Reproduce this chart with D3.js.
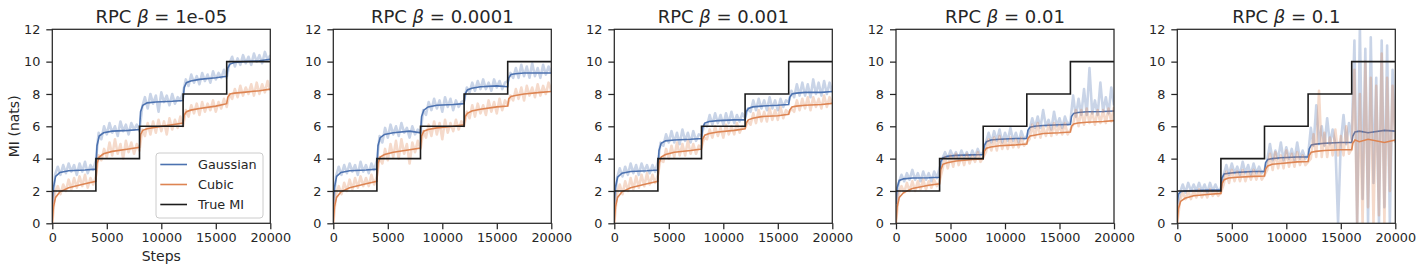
<!DOCTYPE html>
<html>
<head>
<meta charset="utf-8">
<script src="https://cdn.jsdelivr.net/npm/d3@7"></script>
<style>
body { margin: 0; background: #fff; }
text { font-family: "DejaVu Sans", sans-serif; fill: #262626; }
</style>
</head>
<body>
<svg class="mi" width="1423" height="271"></svg>
<script>
// beta values, one panel each
const betas = ["1e-05", "0.0001", "0.001", "0.01", "0.1"]

// smoothed curves, sampled at these steps
const steps = [0, 100, 300, 700, 1500, 3000,
  4000, 4100, 4300, 4700, 5500, 7000,
  8000, 8100, 8300, 8700, 9500, 11000,
  12000, 12100, 12300, 12700, 13500, 15000,
  16000, 16100, 16300, 16700, 17500, 19000, 20000]

const gaussianSmooth = [
  [1.2, 2.2, 2.9, 3.15, 3.25, 3.3, 3.35, 4.8, 5.4, 5.6, 5.7, 5.75, 5.8, 6.9, 7.3, 7.45, 7.5, 7.55, 7.6, 8.4, 8.7, 8.8, 8.9, 9.0, 9.1, 9.6, 9.85, 9.95, 10.0, 10.05, 10.15],
  [1.2, 2.2, 2.9, 3.15, 3.25, 3.3, 3.35, 4.8, 5.3, 5.5, 5.6, 5.7, 5.6, 6.6, 7.0, 7.2, 7.3, 7.35, 7.4, 8.0, 8.25, 8.35, 8.45, 8.5, 8.45, 9.0, 9.2, 9.25, 9.3, 9.3, 9.3],
  [1.2, 2.2, 2.85, 3.1, 3.2, 3.25, 3.3, 4.5, 4.95, 5.1, 5.15, 5.2, 5.25, 5.9, 6.2, 6.3, 6.35, 6.4, 6.4, 6.9, 7.1, 7.2, 7.25, 7.3, 7.35, 7.8, 8.0, 8.05, 8.1, 8.1, 8.15],
  [1.2, 2.2, 2.65, 2.75, 2.8, 2.82, 2.85, 3.8, 4.05, 4.15, 4.2, 4.23, 4.25, 4.8, 5.05, 5.15, 5.2, 5.25, 5.25, 5.75, 5.95, 6.0, 6.05, 6.1, 6.12, 6.6, 6.8, 6.85, 6.9, 6.92, 6.95],
  [1.2, 1.8, 1.95, 2.0, 2.02, 2.05, 2.05, 2.8, 3.05, 3.1, 3.15, 3.2, 3.2, 3.75, 3.95, 4.0, 4.05, 4.1, 4.1, 4.6, 4.85, 4.9, 4.95, 5.0, 5.0, 5.4, 5.65, 5.7, 5.6, 5.75, 5.7]
]

const cubicSmooth = [
  [0, 1.0, 1.6, 1.95, 2.2, 2.45, 2.6, 3.7, 4.1, 4.3, 4.45, 4.6, 4.7, 5.5, 5.75, 5.85, 5.95, 6.1, 6.2, 6.7, 6.9, 7.0, 7.1, 7.25, 7.4, 7.8, 8.0, 8.05, 8.1, 8.2, 8.3],
  [0, 1.0, 1.6, 1.95, 2.2, 2.45, 2.6, 3.7, 4.1, 4.25, 4.4, 4.55, 4.65, 5.4, 5.7, 5.8, 5.9, 6.0, 6.1, 6.6, 6.8, 6.95, 7.05, 7.2, 7.25, 7.7, 7.85, 7.9, 8.0, 8.1, 8.15],
  [0, 1.0, 1.6, 1.95, 2.2, 2.45, 2.6, 3.7, 4.1, 4.25, 4.4, 4.5, 4.6, 5.2, 5.45, 5.55, 5.65, 5.75, 5.85, 6.2, 6.4, 6.5, 6.6, 6.65, 6.75, 7.0, 7.2, 7.25, 7.3, 7.35, 7.42],
  [0, 1.0, 1.6, 1.9, 2.15, 2.35, 2.45, 3.3, 3.65, 3.75, 3.85, 3.95, 3.98, 4.45, 4.65, 4.72, 4.8, 4.85, 4.9, 5.25, 5.4, 5.45, 5.55, 5.6, 5.65, 6.0, 6.15, 6.2, 6.25, 6.3, 6.35],
  [0, 0.9, 1.35, 1.55, 1.7, 1.8, 1.85, 2.45, 2.7, 2.8, 2.85, 2.9, 2.92, 3.35, 3.55, 3.65, 3.7, 3.8, 3.82, 4.2, 4.4, 4.45, 4.5, 4.55, 4.55, 4.95, 5.15, 5.05, 5.2, 5.0, 5.15]
]

// raw (unsmoothed) estimates, one every 250 steps
const rawSteps = d3.range(0, 20001, 250)

const gaussianRaw = [
  [1.0, 3.0, 3.5, 3.0, 3.6, 3.1, 3.7, 3.2, 3.6, 3.0, 3.7, 3.2, 3.8, 3.1, 3.6, 3.3,
   3.9, 5.6, 5.2, 6.0, 5.5, 6.2, 5.6, 6.0, 5.4, 6.3, 5.7, 6.1, 5.5, 6.2, 5.8, 6.1,
   5.7, 7.2, 7.8, 7.1, 8.0, 7.4, 7.9, 6.9, 8.1, 7.5, 7.9, 7.3, 8.0, 7.4, 7.8, 7.6,
   8.1, 8.9, 8.5, 9.2, 8.7, 9.1, 8.6, 9.3, 8.8, 9.2, 8.7, 9.4, 8.9, 9.3, 9.0, 9.5,
   9.0, 9.9, 10.3, 9.7, 10.2, 9.8, 10.4, 9.9, 10.3, 9.8, 10.5, 10.0, 10.4, 9.9, 10.6, 10.1, 10.4],
  [1.0, 2.9, 3.5, 3.0, 3.6, 3.1, 3.7, 3.2, 3.6, 3.0, 3.8, 3.2, 3.6, 3.1, 3.7, 3.3,
   3.9, 5.4, 5.0, 5.9, 5.3, 6.1, 5.5, 6.0, 5.4, 6.2, 5.6, 5.9, 5.3, 6.0, 5.5, 5.8,
   5.6, 7.0, 6.7, 7.5, 7.0, 7.7, 7.1, 7.6, 6.9, 7.8, 7.2, 7.7, 7.0, 7.6, 7.2, 7.5,
   7.6, 8.4, 8.1, 8.7, 8.2, 8.8, 8.3, 8.9, 8.3, 8.7, 8.2, 8.9, 8.4, 8.8, 8.3, 8.7,
   8.8, 9.3, 9.0, 9.6, 9.0, 9.8, 9.1, 9.7, 9.0, 9.9, 9.1, 9.6, 9.0, 9.8, 9.2, 9.7, 9.3],
  [1.0, 2.8, 3.4, 2.9, 3.5, 3.0, 3.7, 3.1, 3.6, 3.0, 3.7, 3.2, 3.6, 3.1, 3.6, 3.2,
   3.8, 5.0, 4.8, 5.5, 5.0, 5.7, 5.0, 5.6, 4.9, 5.8, 5.1, 5.6, 5.0, 5.7, 5.1, 5.5,
   5.4, 6.1, 6.0, 6.7, 6.1, 6.8, 6.2, 6.7, 6.1, 6.8, 6.2, 6.9, 6.2, 6.7, 6.3, 6.8,
   6.5, 7.1, 6.9, 7.6, 7.0, 7.7, 7.1, 7.6, 7.0, 7.8, 7.1, 7.6, 7.0, 7.7, 7.2, 7.6,
   7.5, 8.2, 7.8, 8.6, 7.9, 8.7, 7.9, 8.6, 7.8, 8.9, 8.0, 8.7, 7.9, 8.8, 8.0, 8.7, 8.1],
  [1.0, 2.5, 3.0, 2.6, 3.1, 2.7, 3.3, 2.7, 3.1, 2.6, 3.2, 2.7, 3.1, 2.6, 3.2, 2.8,
   3.4, 4.0, 4.4, 4.0, 4.5, 4.1, 4.4, 4.0, 4.5, 4.1, 4.4, 4.0, 4.5, 4.1, 4.6, 4.2,
   4.4, 5.0, 5.6, 5.0, 5.7, 5.1, 5.8, 5.0, 5.6, 5.1, 5.9, 5.1, 5.6, 5.0, 5.7, 5.2,
   5.4, 5.8, 6.5, 5.9, 6.6, 5.9, 7.0, 6.0, 6.4, 5.8, 6.9, 6.0, 6.5, 5.9, 6.6, 6.1,
   6.3, 7.9, 6.6, 7.7, 6.7, 8.3, 6.7, 9.6, 6.8, 7.6, 6.7, 8.7, 6.9, 7.8, 6.8, 8.4, 7.3],
  [1.0, 1.9, 2.4, 1.9, 2.5, 2.0, 2.4, 2.0, 2.5, 2.0, 2.4, 1.9, 2.5, 2.0, 2.4, 2.0,
   2.2, 3.0, 3.6, 3.0, 3.7, 3.1, 3.5, 3.0, 3.8, 3.1, 3.6, 3.0, 3.7, 3.1, 3.5, 3.1,
   3.3, 3.9, 4.9, 3.9, 4.5, 4.0, 5.0, 3.9, 4.7, 4.0, 4.6, 3.9, 5.0, 4.0, 4.5, 4.0,
   4.2, 5.9, 4.8, 7.3, 4.9, 6.0, 4.8, 6.5, 4.9, 5.8, 4.9, 0.0, 5.0, 6.7, 4.9, 6.2,
   5.2, 11.3, 0.0, 12.2, 1.5, 10.8, 0.0, 11.5, 2.5, 9.0, 0.0, 11.3, 1.0, 11.0, 0.0, 9.5, 5.0]
]

const cubicRaw = [
  [0.0, 1.9, 2.3, 1.8, 2.4, 2.0, 2.7, 2.1, 2.8, 2.2, 2.9, 2.3, 3.0, 2.2, 2.8, 2.4,
   2.9, 4.2, 3.9, 4.6, 4.1, 5.0, 4.2, 5.2, 4.3, 4.9, 4.0, 5.1, 4.4, 5.0, 4.3, 4.9,
   4.5, 5.8, 5.4, 6.2, 5.5, 6.3, 5.6, 6.4, 5.7, 6.3, 5.5, 6.5, 5.8, 6.4, 5.9, 6.6,
   6.0, 7.0, 6.6, 7.3, 6.8, 7.4, 6.7, 7.5, 6.9, 7.4, 7.0, 7.6, 6.9, 7.5, 7.1, 7.7,
   7.2, 8.0, 7.7, 8.3, 7.8, 8.5, 7.9, 8.4, 8.0, 8.6, 7.9, 8.7, 8.0, 8.6, 8.1, 8.8, 8.2],
  [0.0, 1.8, 2.3, 1.8, 2.5, 2.0, 2.7, 2.1, 2.8, 2.2, 2.9, 2.3, 2.8, 2.3, 3.0, 2.4,
   2.9, 4.1, 3.7, 4.6, 3.9, 4.9, 4.1, 5.1, 4.0, 5.2, 4.3, 4.9, 3.7, 5.0, 4.4, 5.1,
   4.6, 5.7, 5.3, 6.1, 5.4, 6.3, 5.5, 6.2, 5.2, 6.4, 5.6, 6.2, 5.7, 6.4, 5.8, 6.3,
   6.0, 6.9, 6.5, 7.3, 6.6, 7.4, 6.8, 7.3, 6.7, 7.6, 6.9, 7.5, 6.8, 7.7, 7.0, 7.6,
   7.3, 7.9, 7.6, 8.3, 7.7, 8.4, 7.6, 8.5, 7.9, 8.4, 7.8, 8.6, 7.9, 8.5, 8.0, 8.7, 8.2],
  [0.0, 1.8, 2.4, 1.8, 2.6, 2.0, 2.8, 2.1, 2.9, 2.2, 3.0, 2.3, 3.1, 2.4, 3.0, 2.5,
   3.0, 4.0, 3.8, 4.6, 4.0, 4.8, 4.1, 5.0, 4.2, 4.9, 4.2, 5.1, 4.3, 4.9, 4.3, 4.8,
   4.7, 5.3, 5.2, 5.8, 5.3, 6.0, 5.4, 5.9, 5.3, 6.1, 5.5, 6.0, 5.5, 6.2, 5.6, 6.0,
   5.9, 6.3, 6.1, 6.8, 6.2, 7.0, 6.3, 6.9, 6.3, 7.1, 6.4, 7.0, 6.4, 7.2, 6.5, 7.0,
   6.8, 7.1, 6.9, 7.6, 7.0, 7.7, 7.1, 7.8, 7.0, 7.8, 7.2, 7.7, 7.1, 7.9, 7.2, 7.8, 7.4],
  [0.0, 1.8, 2.3, 1.9, 2.5, 2.0, 2.6, 2.0, 2.6, 2.1, 2.7, 2.1, 2.6, 2.2, 2.7, 2.3,
   2.6, 3.3, 4.1, 3.4, 4.2, 3.5, 4.3, 3.6, 4.2, 3.6, 4.3, 3.7, 4.2, 3.8, 4.4, 3.8,
   4.1, 4.4, 5.2, 4.5, 5.3, 4.5, 5.4, 4.6, 5.2, 4.6, 5.3, 4.7, 5.2, 4.7, 5.3, 4.8,
   5.0, 5.2, 6.1, 5.3, 6.2, 5.3, 6.0, 5.4, 6.1, 5.4, 6.2, 5.5, 6.1, 5.5, 6.2, 5.5,
   5.8, 6.1, 7.0, 6.0, 7.0, 6.1, 7.1, 6.2, 6.9, 6.1, 7.0, 6.2, 7.0, 6.2, 7.1, 6.3, 7.2],
  [0.0, 1.4, 1.9, 1.5, 2.0, 1.5, 2.0, 1.6, 2.1, 1.6, 2.0, 1.6, 2.1, 1.7, 2.0, 1.7,
   1.9, 2.4, 3.2, 2.5, 3.3, 2.6, 3.2, 2.6, 3.3, 2.6, 3.2, 2.7, 3.3, 2.7, 3.2, 2.7,
   3.0, 3.3, 4.3, 3.3, 4.4, 3.4, 4.2, 3.4, 4.5, 3.5, 4.3, 3.5, 4.4, 3.6, 4.2, 3.6,
   3.8, 4.0, 5.5, 4.1, 8.2, 4.1, 5.6, 4.1, 5.3, 4.2, 5.8, 4.2, 5.4, 4.2, 6.0, 4.3,
   4.6, 9.5, 0.0, 8.0, 0.0, 10.0, 1.0, 9.0, 0.0, 8.5, 0.5, 10.5, 0.0, 9.0, 2.0, 8.5, 5.0]
]

// true mutual information, stepped every 4000 steps
const trueSteps = [0, 4000, 8000, 12000, 16000, 20000]
const trueMI = [2, 4, 6, 8, 10, 10]

const xTicks = [0, 5000, 10000, 15000, 20000]
const yTicks = [0, 2, 4, 6, 8, 10, 12]

const blue = "#4c72b0"
const orange = "#dd8452"

const svg = d3.select("svg.mi")

const width = 218
const height = 194
const marginTop = 29.3
const lefts = [52.3, 333.3, 614.3, 896, 1177.3]

const x = d3.scaleLinear().domain([0, 20000]).range([0, width])
const y = d3.scaleLinear().domain([0, 12]).range([height, 0])

const lineSmooth = d3.line().x((d, i) => x(steps[i])).y(d => y(d))
const lineRaw = d3.line().x((d, i) => x(rawSteps[i])).y(d => y(d))
const lineTrue = d3.line().curve(d3.curveStepAfter)
    .x((d, i) => x(trueSteps[i])).y(d => y(d))

betas.forEach((beta, p) => {
    const g = svg.append("g").attr("transform", `translate(${lefts[p]},${marginTop})`)

    g.append("clipPath").attr("id", "clip" + p)
        .append("rect").attr("width", width).attr("height", height)

    const plot = g.append("g").attr("clip-path", `url(#clip${p})`)

    // raw traces first, then the smoothed line on top of each
    plot.append("path").attr("d", lineRaw(gaussianRaw[p]))
        .attr("fill", "none").attr("stroke", blue).attr("stroke-opacity", 0.3)
        .attr("stroke-width", 2.6).attr("stroke-linejoin", "round")
    plot.append("path").attr("d", lineSmooth(gaussianSmooth[p]))
        .attr("fill", "none").attr("stroke", blue).attr("stroke-width", 1.6)
    plot.append("path").attr("d", lineRaw(cubicRaw[p]))
        .attr("fill", "none").attr("stroke", orange).attr("stroke-opacity", 0.3)
        .attr("stroke-width", 2.6).attr("stroke-linejoin", "round")
    plot.append("path").attr("d", lineSmooth(cubicSmooth[p]))
        .attr("fill", "none").attr("stroke", orange).attr("stroke-width", 1.6)
    plot.append("path").attr("d", lineTrue(trueMI))
        .attr("fill", "none").attr("stroke", "#1c1c1c").attr("stroke-width", 1.6)

    // axes
    const xAxis = g.append("g").attr("transform", `translate(0,${height})`)
        .call(d3.axisBottom(x).tickValues(xTicks).tickSize(6).tickPadding(3.5).tickFormat(d3.format("d")))
    const yAxis = g.append("g")
        .call(d3.axisLeft(y).tickValues(yTicks).tickSize(6).tickPadding(6))

    ;[xAxis, yAxis].forEach(a => {
        a.select(".domain").remove()
        a.selectAll(".tick line").attr("stroke", "#262626").attr("stroke-width", 1.25)
        a.selectAll(".tick text").style("font-size", "12.8px")
            .style("font-family", "DejaVu Sans").attr("fill", "#262626")
    })

    g.append("rect").attr("width", width).attr("height", height)
        .attr("fill", "none").attr("stroke", "#262626").attr("stroke-width", 1.25)

    // title with italic beta
    const title = g.append("text")
        .attr("x", width / 2).attr("y", -6)
        .attr("text-anchor", "middle")
        .style("font-size", "18px")
    title.append("tspan").text("RPC ")
    title.append("tspan").style("font-style", "italic").text("β")
    title.append("tspan").text(" = " + beta)

    if (p == 0) {
        g.append("text")
            .attr("transform", `translate(${14 - lefts[0]},${height / 2}) rotate(-90)`)
            .attr("text-anchor", "middle")
            .attr("dy", "0.35em")
            .style("font-size", "14px")
            .text("MI (nats)")
        g.append("text")
            .attr("x", width / 2).attr("y", 261.5 - marginTop)
            .attr("text-anchor", "middle")
            .style("font-size", "14px")
            .text("Steps")

        // legend
        const legendItems = [["Gaussian", blue], ["Cubic", orange], ["True MI", "#1c1c1c"]]
        const legend = g.append("g").attr("transform", "translate(103.7,123.7)")
        legend.append("rect")
            .attr("width", 107).attr("height", 65).attr("rx", 3)
            .attr("fill", "#fff").attr("fill-opacity", 0.8)
            .attr("stroke", "#cccccc").attr("stroke-width", 1)
        legend.selectAll("line")
            .data(legendItems)
            .enter()
            .append("line")
            .attr("x1", 4.3).attr("x2", 31)
            .attr("y1", (d, i) => 11.5 + i * 20)
            .attr("y2", (d, i) => 11.5 + i * 20)
            .attr("stroke", d => d[1]).attr("stroke-width", 1.6)
        legend.selectAll("text")
            .data(legendItems)
            .enter()
            .append("text")
            .attr("x", 42)
            .attr("y", (d, i) => 11.5 + i * 20)
            .attr("dy", "0.35em")
            .style("font-size", "12.8px")
            .text(d => d[0])
    }
})
</script>
</body>
</html>
